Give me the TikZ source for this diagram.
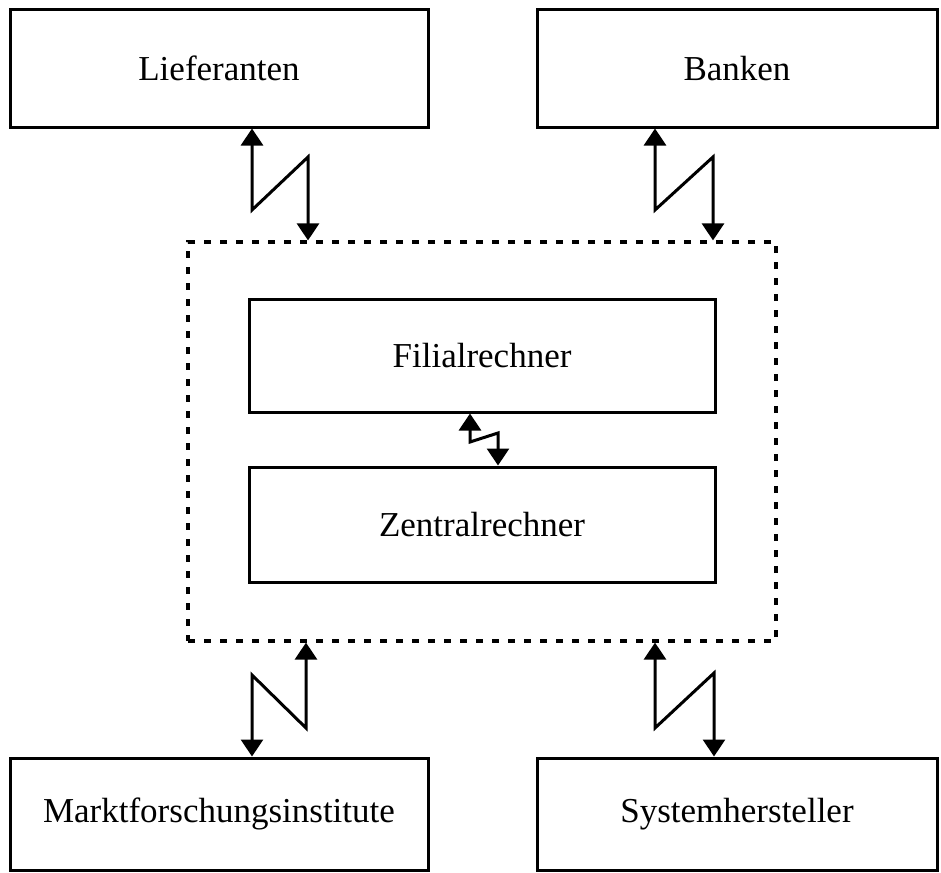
\documentclass[tikz,border=0pt]{standalone}
\usepackage{fontspec}
\setmainfont{Liberation Serif}
\usetikzlibrary{arrows.meta}
\begin{document}
\begin{tikzpicture}[x=0.5pt,y=-0.5pt,
  box/.style={draw,line width=1.5pt,inner sep=0pt,font=\fontsize{17.5pt}{21pt}\selectfont},
  dotbox/.style={draw,line width=1.6pt,dash pattern=on 3.5pt off 4.5pt,inner sep=0pt},
  link/.style={line width=1.5pt,{Triangle[width=11pt,length=8.5pt]}-{Triangle[width=11pt,length=8.5pt]}}]
\useasboundingbox (0,0) rectangle (941,872);
% outer boxes
\node[box,minimum width=209pt,minimum height=58.5pt] (lief) at (219,68.5) {Lieferanten};
\node[box,minimum width=200pt,minimum height=58.5pt] (bank) at (737,68.5) {Banken};
\node[box,minimum width=209pt,minimum height=56pt] (markt) at (219,814) {Marktforschungsinstitute};
\node[box,minimum width=200pt,minimum height=56pt] (sys) at (737,814) {Systemhersteller};
% dotted frame
\node[dotbox,minimum width=294pt,minimum height=199.5pt] (dot) at (482,441.5) {};
% inner boxes
\node[box,minimum width=233pt,minimum height=56.5pt] (fil) at (482,355.5) {Filialrechner};
\node[box,minimum width=233pt,minimum height=57.5pt] (zen) at (482,524.5) {Zentralrechner};
% zigzag coordinates
\coordinate (a1) at (252,210); \coordinate (a2) at (308,157);
\coordinate (b1) at (655,210); \coordinate (b2) at (713,157);
\coordinate (c1) at (470,442); \coordinate (c2) at (498,433);
\coordinate (d1) at (306,728); \coordinate (d2) at (252,675);
\coordinate (e1) at (655,728); \coordinate (e2) at (714,673);
% connectors
\draw[link] (a1 |- lief.south) -- (a1) -- (a2) -- (a2 |- dot.north);
\draw[link] (b1 |- bank.south) -- (b1) -- (b2) -- (b2 |- dot.north);
\draw[link] (c1 |- fil.south) -- (c1) -- (c2) -- (c2 |- zen.north);
\draw[link] (d1 |- dot.south) -- (d1) -- (d2) -- (d2 |- markt.north);
\draw[link] (e1 |- dot.south) -- (e1) -- (e2) -- (e2 |- sys.north);
\end{tikzpicture}
\end{document}
